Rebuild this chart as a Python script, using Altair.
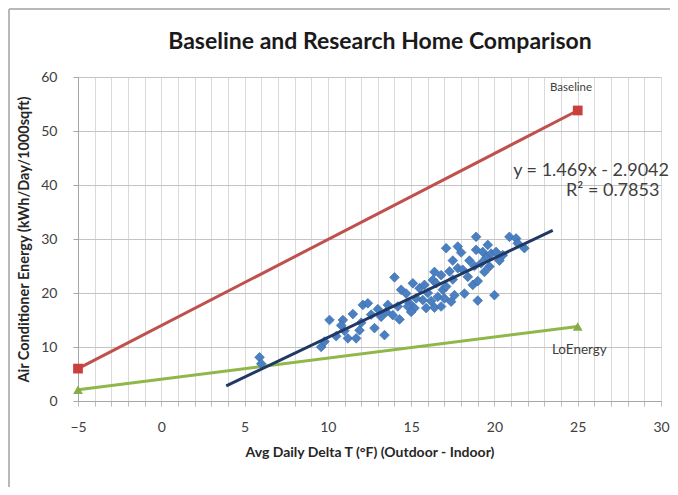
import altair as alt
import pandas as pd

# ---- data ----
scatter_x = [5.9, 6.0, 9.6, 9.8, 10.1, 10.9, 11.5, 11.2, 11.7, 11.9, 12.1, 12.4, 12.8, 13.4,
             13.2, 13.6, 13.9, 14.3, 14.0, 14.4, 14.7, 14.9, 15.1, 15.2, 15.5, 15.7, 15.9,
             16.3, 16.4, 16.4, 16.6, 16.8, 16.9, 17.1, 17.1, 17.4, 17.5, 17.6, 17.8, 17.8,
             18.1, 18.2, 18.4, 18.7, 18.9, 18.9, 19.0, 19.0, 19.3, 19.4, 19.6, 19.7, 19.8,
             20.0, 20.1, 20.9, 21.3, 21.4, 21.8,
             14.8, 15.3, 16.0, 16.2, 15.8, 17.0, 16.5, 13.0, 12.6, 11.0, 10.5, 12.0, 18.5,
             19.2, 20.5, 17.5, 18.0, 14.2, 15.0, 16.8, 19.5, 10.8, 13.5, 17.3, 18.8, 20.3]
scatter_y = [8.1, 6.9, 10.0, 11.0, 15.0, 15.0, 16.1, 11.6, 11.6, 13.1, 17.8, 18.1, 13.5, 12.2,
             15.6, 17.8, 15.9, 15.1, 22.9, 20.6, 19.9, 18.1, 21.8, 17.2, 20.9, 18.7, 17.2,
             22.4, 23.9, 17.3, 19.3, 23.3, 20.6, 28.3, 21.2, 18.4, 26.0, 19.6, 28.6, 24.6,
             24.3, 19.9, 23.0, 21.5, 30.4, 28.0, 18.6, 22.2, 27.6, 23.9, 28.9, 24.9, 27.3,
             19.6, 27.6, 30.4, 30.1, 29.2, 28.3,
             17.5, 19.0, 20.0, 18.5, 21.5, 19.0, 21.8, 17.0, 16.0, 13.0, 12.0, 14.5, 26.0,
             25.5, 27.0, 22.5, 27.5, 17.5, 16.5, 17.5, 26.5, 14.0, 16.5, 24.0, 25.0, 26.0]

baseline_x = [-5, 25]
baseline_y = [6.0, 53.8]
loenergy_x = [-5, 25]
loenergy_y = [2.1, 13.8]
trend_x = [3.9, 23.5]
trend_y = [2.8, 31.6]

x_ticks = list(range(-5, 31))
y_ticks = [0, 10, 20, 30, 40, 50, 60]

FONT = "Lato"
TITLE = "Baseline and Research Home Comparison"

scatter_df = pd.DataFrame({"x": scatter_x, "y": scatter_y})
base_df = pd.DataFrame({"x": baseline_x, "y": baseline_y})
lo_df = pd.DataFrame({"x": loenergy_x, "y": loenergy_y})
trend_df = pd.DataFrame({"x": trend_x, "y": trend_y})

xscale = alt.Scale(domain=[-5, 30], nice=False, zero=False)
yscale = alt.Scale(domain=[0, 60], nice=False, zero=False)

xaxis = alt.Axis(values=x_ticks, labelExpr="datum.value % 5 == 0 ? datum.label : ''",
                 title="Avg Daily Delta T (°F) (Outdoor - Indoor)",
                 grid=True, gridColor="#dadada", gridWidth=1,
                 domainColor="#a6a6a6", tickColor="#bcbcbc", tickSize=5,
                 labelOverlap=False, labelFlush=False,
                 labelFont=FONT, labelFontSize=14, labelColor="#404040", labelPadding=14,
                 titleFont=FONT, titleFontSize=14, titleFontWeight="bold", titleColor="#262626",
                 titlePadding=11)
yaxis = alt.Axis(values=y_ticks, title="Air Conditioner Energy (kWh/Day/1000sqft)",
                 grid=True, gridColor="#c4c4c4", gridWidth=1,
                 domainColor="#a6a6a6", tickColor="#a6a6a6", tickSize=5,
                 labelOverlap=False, labelFlush=False,
                 labelFont=FONT, labelFontSize=14, labelColor="#404040", labelPadding=16,
                 titleFont=FONT, titleFontSize=14.5, titleFontWeight="bold", titleColor="#262626",
                 titlePadding=9)

X = alt.X("x:Q", scale=xscale, axis=xaxis)
Y = alt.Y("y:Q", scale=yscale, axis=yaxis)

base_line = alt.Chart(base_df).mark_line(color="#c0504d", strokeWidth=3).encode(x=X, y=Y)
base_pts = alt.Chart(base_df).mark_point(shape="square", filled=True, color="#c9403c",
                                         size=95, opacity=1).encode(x=X, y=Y)
lo_line = alt.Chart(lo_df).mark_line(color="#8fb74a", strokeWidth=3).encode(x=X, y=Y)
lo_pts = alt.Chart(lo_df).mark_point(shape="triangle-up", filled=True, color="#86ac47",
                                     size=95, opacity=1).encode(x=X, y=Y)
trend_line = alt.Chart(trend_df).mark_line(color="#1f3864", strokeWidth=3).encode(x=X, y=Y)
pts = alt.Chart(scatter_df).mark_point(shape="diamond", filled=True, color="#4a7fc1",
                                       size=95, opacity=1, stroke="#3567a8",
                                       strokeWidth=0.6).encode(x=X, y=Y)

labels_df = pd.DataFrame({
    "x": [24.6, 25.1, 25.8, 27.1],
    "y": [58.0, 9.4, 42.6, 38.9],
    "t": ["Baseline", "LoEnergy", "y = 1.469x - 2.9042", "R² = 0.7853"],
    "s": [11.5, 13.5, 18, 18],
})
labels = alt.Chart(labels_df).mark_text(font=FONT, color="#404040", align="center",
                                        baseline="middle").encode(
    x=X, y=Y, text="t:N", size=alt.Size("s:Q", scale=None, legend=None))

title_df = pd.DataFrame({"t": [TITLE]})
title = alt.Chart(title_df).mark_text(font=FONT, fontSize=23, fontWeight="bold",
                                      color="#1a1a1a", align="center",
                                      baseline="middle").encode(
    x=alt.value(302), y=alt.value(-35), text="t:N")

frame_left = alt.Chart(title_df).mark_rule(color="#b8b8b8", strokeWidth=2).encode(
    x=alt.value(-69), y=alt.value(-68), y2=alt.value(410))
frame_top = alt.Chart(title_df).mark_rule(color="#b8b8b8", strokeWidth=2).encode(
    x=alt.value(-69), x2=alt.value(592), y=alt.value(-68))

chart = alt.layer(frame_left, frame_top, base_line, lo_line, pts, trend_line,
                  base_pts, lo_pts, labels, title).properties(
    width=583, height=324,
    autosize=alt.AutoSizeParams(type="none"),
    padding={"left": 70, "top": 69, "right": 9, "bottom": 86},
).configure_view(stroke=None).configure(background="white")

chart.save("out.html", embed_options={"renderer": "svg", "actions": False})
